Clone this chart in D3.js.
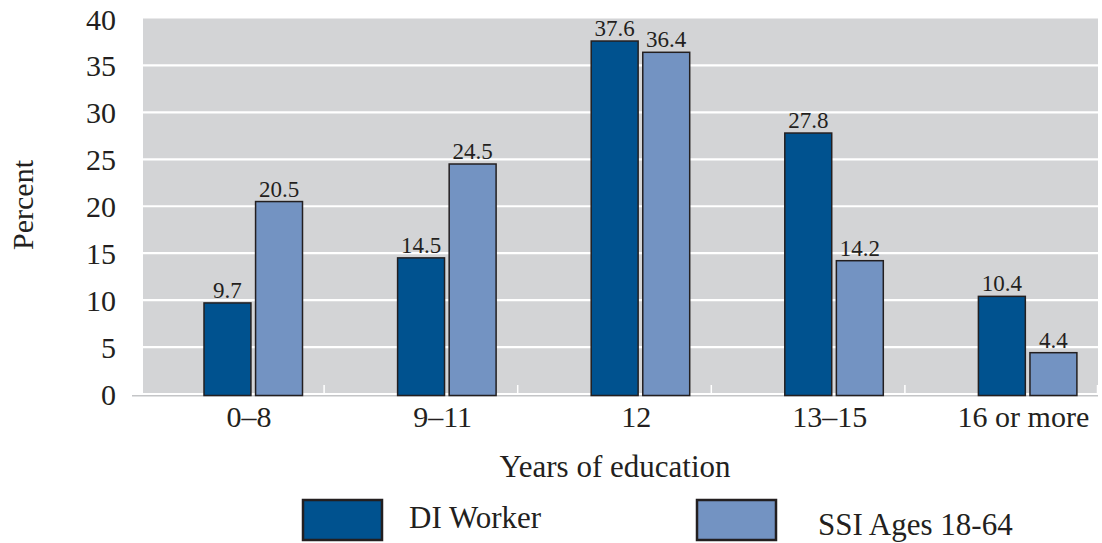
<!DOCTYPE html>
<html>
<head>
<meta charset="utf-8">
<script src="https://cdn.jsdelivr.net/npm/d3@7"></script>
<style>
  body { margin: 0; background: #fff; }
  svg text { font-family: "Liberation Serif", "Times New Roman", serif; fill: #231f20; }
</style>
</head>
<body>
<div id="chart"></div>
<script>
// data
const categories = ["0\u20138", "9\u201311", "12", "13\u201315", "16 or more"];
const seriesNames = ["DI Worker", "SSI Ages 18-64"];
const diWorker = [9.7, 14.5, 37.6, 27.8, 10.4];
const ssiAdults = [20.5, 24.5, 36.4, 14.2, 4.4];
const yTicks = [0, 5, 10, 15, 20, 25, 30, 35, 40];

const colors = ["#00528f", "#7393c2"];
const width = 1102, height = 543;

const svg = d3.select("#chart")
    .append("svg")
    .attr("width", width)
    .attr("height", height);

let rows = categories.map((c, i) => ({cat: c, values: [diWorker[i], ssiAdults[i]]}));

let x0 = d3.scaleBand()
    .domain(categories)
    .range([130.5, 1098.5]);

// bars sit toward the right side of each band
let x1 = d3.scaleBand()
    .domain(seriesNames)
    .range([73.5, 172])
    .paddingInner(0.09);

let y = d3.scaleLinear()
    .domain([0, 40])
    .range([394, 18.5]);

// grey plot background
svg.append("rect")
    .attr("x", 143)
    .attr("y", y(40))
    .attr("width", 1098 - 143)
    .attr("height", y(0) - y(40) - 1)
    .attr("fill", "#d3d4d6");

// white gridlines
svg.append("g")
    .selectAll("line")
    .data(yTicks.filter(d => d > 0 && d < 40))
    .enter()
    .append("line")
    .attr("x1", 143)
    .attr("x2", 1098)
    .attr("y1", d => y(d))
    .attr("y2", d => y(d))
    .attr("stroke", "#fff")
    .attr("stroke-width", 2.2);

// baseline
svg.append("line")
    .attr("x1", 132)
    .attr("x2", 1098)
    .attr("y1", y(0) + 1.8)
    .attr("y2", y(0) + 1.8)
    .attr("stroke", "#c4c5c7")
    .attr("stroke-width", 1.6);

// small white ticks between groups
svg.append("g")
    .selectAll("line")
    .data(categories.slice(1))
    .enter()
    .append("line")
    .attr("x1", d => x0(d))
    .attr("x2", d => x0(d))
    .attr("y1", y(0) - 9)
    .attr("y2", y(0))
    .attr("stroke", "#fff")
    .attr("stroke-width", 1.5);

svg.append("line")
    .attr("x1", 1097.5).attr("x2", 1097.5)
    .attr("y1", y(0) - 9).attr("y2", y(0))
    .attr("stroke", "#fff")
    .attr("stroke-width", 1.5);

// y tick labels
svg.append("g")
    .selectAll("text")
    .data(yTicks)
    .enter()
    .append("text")
    .attr("x", 116)
    .attr("y", d => y(d) + 11)
    .style("text-anchor", "end")
    .style("font-size", "30px")
    .text(d => d);

// bars
let groups = svg.append("g")
    .selectAll("g")
    .data(rows)
    .enter()
    .append("g")
    .attr("transform", d => `translate(${x0(d.cat)},0)`);

groups.selectAll("rect")
    .data(d => d.values.map((v, i) => ({name: seriesNames[i], value: v, idx: i})))
    .enter()
    .append("rect")
    .attr("x", d => x1(d.name))
    .attr("y", d => y(d.value))
    .attr("width", x1.bandwidth())
    .attr("height", d => y(0) - y(d.value) + 1.5)
    .attr("fill", d => colors[d.idx])
    .attr("stroke", "#231f20")
    .attr("stroke-width", 1.5);

groups.selectAll("text")
    .data(d => d.values.map((v, i) => ({name: seriesNames[i], value: v})))
    .enter()
    .append("text")
    .attr("x", d => x1(d.name) + x1.bandwidth() / 2)
    .attr("y", d => y(d.value) - 5)
    .style("text-anchor", "middle")
    .style("font-size", "23px")
    .text(d => d.value.toFixed(1));

// category labels
svg.append("g")
    .selectAll("text")
    .data(categories)
    .enter()
    .append("text")
    .attr("x", d => x0(d) + 73.5 + 49 - 4)
    .attr("y", 427)
    .style("text-anchor", "middle")
    .style("font-size", "30px")
    .text(d => d);

// axis titles
svg.append("text")
    .attr("x", 615)
    .attr("y", 477)
    .style("text-anchor", "middle")
    .style("font-size", "31px")
    .text("Years of education");

svg.append("text")
    .attr("transform", "translate(33, 205) rotate(-90)")
    .style("text-anchor", "middle")
    .style("font-size", "30px")
    .text("Percent");

// legend
const legendX = [303, 697];
const legendTextX = [409, 818];
const legendTextY = [528, 535];
seriesNames.forEach((name, i) => {
    svg.append("rect")
        .attr("x", legendX[i])
        .attr("y", 500)
        .attr("width", 79)
        .attr("height", 40)
        .attr("fill", colors[i])
        .attr("stroke", "#231f20")
        .attr("stroke-width", 2.5);
    svg.append("text")
        .attr("x", legendTextX[i])
        .attr("y", legendTextY[i])
        .style("font-size", "31px")
        .text(name);
});
</script>
</body>
</html>
